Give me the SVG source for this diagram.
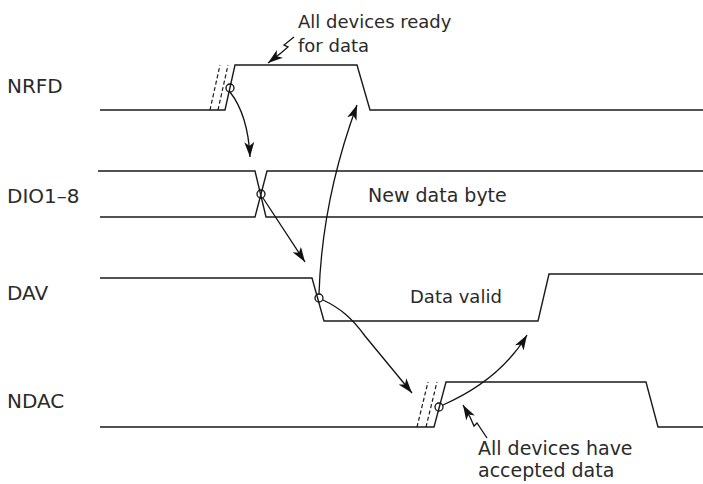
<svg xmlns="http://www.w3.org/2000/svg" width="703" height="484" viewBox="0 0 703 484">
<style>
  .sig{fill:none;stroke:#1a1a1a;stroke-width:1.4;stroke-linejoin:miter}
  .dash{fill:none;stroke:#1a1a1a;stroke-width:1.2;stroke-dasharray:4 2.5}
  .conn{fill:none;stroke:#111;stroke-width:1.3}
  .dot{fill:none;stroke:#111;stroke-width:1.3}
  .lbl{font-family:"DejaVu Sans","Liberation Sans",sans-serif;font-size:20px;fill:#2a2a2a}
  .note{font-family:"DejaVu Sans","Liberation Sans",sans-serif;font-size:18px;fill:#2a2a2a}
</style>
<defs>
  <marker id="ah" markerWidth="16" markerHeight="11" refX="15" refY="5" orient="auto" markerUnits="userSpaceOnUse">
    <path d="M0,0 L15,5 L0,10 L4,5 z" fill="#111"/>
  </marker>
</defs>
<rect width="703" height="484" fill="#fff"/>

<g id="NRFD">
  <text class="lbl" x="7" y="93">NRFD</text>
  <path class="sig" d="M100,110 L225,110 L235,65 L357,65 L370,110 L703,110"/>
  <path class="dash" d="M210,110 L220,65 M218,110 L228,65"/>
  <circle class="dot" cx="230" cy="88" r="4"/>
</g>

<g id="DIO">
  <text class="lbl" x="7" y="203">DIO1–8</text>
  <path class="sig" d="M98,171 L255,171 L266,217 L703,217"/>
  <path class="sig" d="M100,217 L255,217 L267,171 L703,171"/>
  <circle class="dot" cx="261" cy="194" r="4"/>
  <text class="note" x="368" y="202" style="font-size:19px">New data byte</text>
</g>

<g id="DAV">
  <text class="lbl" x="7" y="300">DAV</text>
  <path class="sig" d="M100,278 L312,278 L324,321 L538,321 L549,274 L703,274"/>
  <circle class="dot" cx="319" cy="298" r="4"/>
  <text class="note" x="410" y="303">Data valid</text>
</g>

<g id="NDAC">
  <text class="lbl" x="7" y="408">NDAC</text>
  <path class="sig" d="M100,427 L434,427 L446,382 L646,382 L658,427 L703,427"/>
  <path class="dash" d="M417,427 L428,382 M426,427 L437,382"/>
  <circle class="dot" cx="439" cy="407" r="4"/>
</g>

<g id="note-ready">
  <text class="note" x="298" y="28">All devices ready</text>
  <text class="note" x="298" y="52">for data</text>
</g>

<g id="note-accepted">
  <text class="note" x="478" y="455" style="font-size:19px">All devices have</text>
  <text class="note" x="478" y="477" style="font-size:19px">accepted data</text>
</g>

<g id="connectors">
  <path class="conn" d="M230,92 Q248,115 250,157" marker-end="url(#ah)"/>
  <path class="conn" d="M263,198 L305,262" marker-end="url(#ah)"/>
  <path class="conn" d="M319,294 Q322,200 357,105" marker-end="url(#ah)"/>
  <path class="conn" d="M323,300 C340,308 352,318 365,336 L412,393" marker-end="url(#ah)"/>
  <path class="conn" d="M443,405 Q500,380 527,335" marker-end="url(#ah)"/>
  <path class="conn" d="M294,37 L284,45 L288,47 L281,53 L268,63" marker-end="url(#ah)"/>
  <path class="conn" d="M487,438 L477,423 L474,426 L470,417 L463,405" marker-end="url(#ah)"/>
</g>
</svg>
